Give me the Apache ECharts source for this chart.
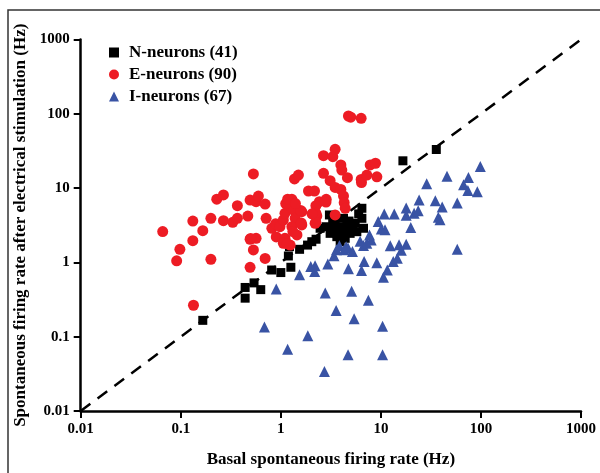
<!DOCTYPE html>
<html>
<head>
<meta charset="utf-8">
<script src="https://cdn.jsdelivr.net/npm/echarts@6/dist/echarts.min.js"></script>
<style>
  html, body { margin: 0; padding: 0; background: #fff; }
  #chart { width: 600px; height: 473px; }
</style>
</head>
<body>
<div id="chart"></div>
<script>
// basal rate (Hz), rate after stimulation (Hz)
const nNeurons = [
  [0.166, 0.166], [0.44, 0.33], [0.44, 0.46], [0.54, 0.53], [0.63, 0.43],
  [0.81, 0.79], [1.0, 0.73], [1.26, 0.86], [1.19, 1.22], [1.22, 1.63],
  [1.54, 1.5], [1.85, 1.71], [2.04, 1.9], [2.25, 2.05], [2.47, 2.88],
  [3.06, 4.35], [2.84, 3.02], [3.36, 2.73], [3.63, 2.22], [3.92, 1.9],
  [4.07, 2.59], [4.57, 3.19], [4.93, 2.46], [5.53, 3.36], [6.46, 3.92],
  [6.46, 5.35], [6.7, 2.88], [5.75, 2.59], [4.23, 3.92], [3.49, 3.72],
  [3.11, 2.46], [4.4, 2.11], [3.8, 3.0], [4.5, 2.6], [5.2, 2.9],
  [3.3, 3.5], [4.8, 3.6], [3.6, 2.5], [6.0, 4.5], [16.6, 23.3], [35.8, 33.1]
];

const eNeurons = [
  [0.066, 2.6], [0.091, 1.05], [0.098, 1.5], [0.132, 3.6], [0.132, 1.96],
  [0.134, 0.265], [0.166, 2.67], [0.2, 3.92], [0.2, 1.1], [0.229, 7.1],
  [0.267, 8.1], [0.267, 3.64], [0.331, 3.46], [0.368, 3.92], [0.368, 5.8],
  [0.468, 4.2], [0.493, 6.9], [0.532, 15.5], [0.566, 6.56], [0.597, 7.8],
  [0.697, 6.1], [0.713, 3.92], [0.493, 2.05], [0.566, 2.11], [0.532, 1.47],
  [0.493, 0.86], [0.697, 1.13], [0.813, 2.88], [0.886, 3.3], [0.9, 2.2],
  [0.98, 3.02], [1.06, 3.72], [1.1, 4.58], [1.19, 5.93], [1.29, 7.07],
  [1.34, 5.07], [1.62, 4.81], [1.39, 3.92], [1.29, 3.02], [1.62, 3.19],
  [1.1, 2.11], [1.45, 2.34], [1.24, 1.71], [1.06, 1.81], [1.37, 13.3],
  [1.5, 15.0], [1.89, 9.14], [2.17, 9.14], [2.29, 4.21], [2.2, 3.36],
  [2.43, 6.56], [2.84, 7.07], [2.67, 15.8], [3.11, 12.6], [2.67, 27.3],
  [3.31, 26.5], [3.49, 33.3], [3.49, 10.2], [3.98, 9.6], [4.23, 7.83],
  [4.3, 6.36], [4.4, 5.35], [3.98, 20.5], [4.07, 17.5], [4.63, 13.8],
  [4.74, 93.4], [5.0, 90], [6.35, 86.9], [6.35, 13.1], [6.4, 11.9],
  [7.24, 15.0], [7.82, 20.5], [8.83, 21.6], [9.12, 14.2], [3.49, 4.35],
  [1.12, 6.2], [1.17, 7.1], [1.58, 5.0], [1.6, 3.4], [1.16, 1.78],
  [2.24, 5.8], [2.24, 4.6], [2.24, 3.45], [2.83, 6.5], [1.4, 6.2],
  [1.32, 2.6], [0.5, 2.1], [2.05, 4.5]
];

const iNeurons = [
  [0.686, 0.135], [0.9, 0.438], [1.17, 0.068], [1.54, 0.683], [1.86, 0.103],
  [1.99, 0.884], [2.2, 0.9], [2.18, 0.757], [2.73, 0.034], [2.78, 0.387],
  [2.95, 0.95], [3.4, 1.23], [3.57, 0.226], [3.6, 1.48], [3.85, 1.67],
  [4.3, 1.48], [4.7, 1.56], [4.74, 0.82], [4.7, 0.057], [5.1, 0.41],
  [5.2, 1.4], [5.4, 0.175], [6.2, 1.92], [6.4, 0.78], [6.7, 1.69],
  [6.8, 1.03], [7.5, 0.31], [7.7, 2.33], [8.0, 2.0], [9.1, 0.99],
  [9.4, 3.56], [10.1, 2.81], [10.4, 0.138], [10.4, 0.057], [10.6, 0.63],
  [10.8, 4.47], [11, 2.75], [11.6, 0.79], [12.4, 1.67], [13.3, 1.03],
  [13.6, 4.47], [14.6, 1.14], [15.2, 1.73], [16.0, 1.46], [17.9, 5.38],
  [17.9, 1.75], [17.9, 4.3], [19.9, 2.96], [21.5, 4.6], [23.6, 4.95],
  [24.1, 6.9], [28.7, 11.4], [35, 6.75], [37.5, 4.06], [39, 3.75],
  [41, 5.56], [45.8, 14.4], [58, 6.3], [58, 1.5], [67, 11.1],
  [75, 13.9], [74, 9.3], [92, 8.9], [98.6, 19.6], [7.24, 1.81], [4.5, 1.63]
];

const diagonal = [[0.01, 0.01], [1000, 1000]];
const legendNames = ['N-neurons (41)', 'E-neurons (90)', 'I-neurons (67)'];

const serif = "'Liberation Serif', 'Times New Roman', serif";
const chart = echarts.init(document.getElementById('chart'));

const axisCommon = {
  type: 'log',
  logBase: 10,
  min: 0.01,
  max: 1000,
  nameLocation: 'middle',
  nameTextStyle: { fontFamily: serif, fontWeight: 'bold', fontSize: 17, color: '#000' },
  axisLine: { show: true, lineStyle: { color: '#000', width: 2.5 } },
  axisTick: { show: true, inside: false, length: 7, lineStyle: { color: '#000', width: 2 } },
  minorTick: { show: false },
  splitLine: { show: false },
  axisLabel: {
    fontFamily: serif, fontWeight: 'bold', fontSize: 15, color: '#000',
    formatter: v => String(+v.toPrecision(3))
  }
};

chart.setOption({
  backgroundColor: '#fff',
  animation: false,
  grid: { left: 80.7, right: 19, top: 39.5, bottom: 62, containLabel: false },
  legend: {
    data: legendNames,
    orient: 'vertical',
    left: 104,
    top: 39,
    itemWidth: 10,
    itemHeight: 10,
    itemGap: 5,
    textStyle: {
      fontFamily: serif, fontWeight: 'bold', fontSize: 17, color: '#000',
      lineHeight: 17, padding: [0, 0, 0, 5]
    }
  },
  xAxis: Object.assign({}, axisCommon, {
    name: 'Basal spontaneous firing rate (Hz)',
    nameGap: 40,
    axisLabel: Object.assign({}, axisCommon.axisLabel, { margin: 11 })
  }),
  yAxis: Object.assign({}, axisCommon, {
    name: 'Spontaneous firing rate after electrical stimulation (Hz)',
    nameGap: 41,
    axisLabel: Object.assign({}, axisCommon.axisLabel, { margin: 11 })
  }),
  graphic: [{
    type: 'rect',
    shape: { x: 8, y: 10, width: 640, height: 520 },
    style: { fill: 'none', stroke: '#333', lineWidth: 1.5 },
    silent: true
  }],
  series: [
    {
      type: 'line',
      data: diagonal,
      symbol: 'none',
      silent: true,
      z: 1,
      lineStyle: { color: '#000', width: 2.5, type: [12, 9] }
    },
    {
      name: legendNames[0],
      type: 'scatter',
      data: nNeurons,
      symbol: 'rect',
      symbolSize: 9,
      itemStyle: { color: '#000', opacity: 1 },
      z: 3
    },
    {
      name: legendNames[1],
      type: 'scatter',
      data: eNeurons,
      symbol: 'circle',
      symbolSize: 11,
      itemStyle: { color: '#ED1C24', opacity: 1 },
      z: 3
    },
    {
      name: legendNames[2],
      type: 'scatter',
      data: iNeurons,
      symbol: 'triangle',
      symbolSize: 11,
      itemStyle: { color: '#3953A4', opacity: 1 },
      z: 3
    }
  ]
});
</script>
</body>
</html>
